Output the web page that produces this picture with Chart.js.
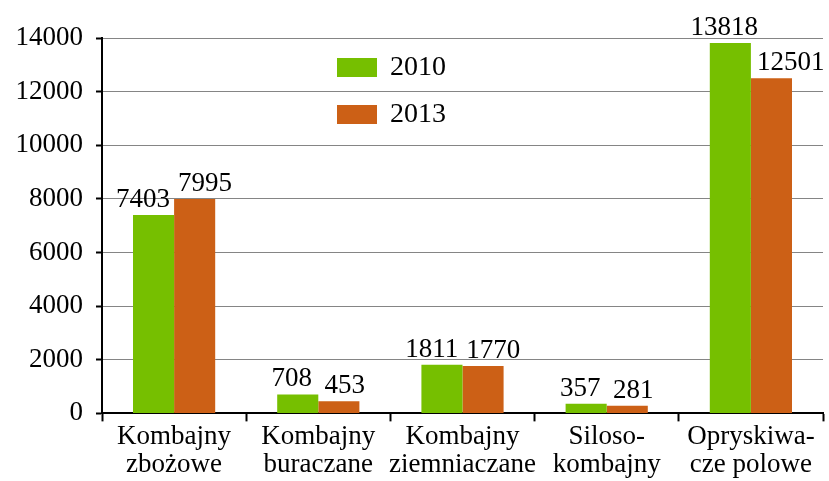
<!DOCTYPE html>
<html>
<head>
<meta charset="utf-8">
<script src="https://cdn.jsdelivr.net/npm/chart.js@4/dist/chart.umd.min.js"></script>
<style>
  html, body { margin: 0; padding: 0; background: #fff; }
  #wrap { width: 829px; height: 481px; position: relative; }
</style>
</head>
<body>
<div id="wrap"><canvas id="chart"></canvas></div>
<script>
const categories = [
    ['Kombajny', 'zbożowe'],
    ['Kombajny', 'buraczane'],
    ['Kombajny', 'ziemniaczane'],
    ['Siloso-', 'kombajny'],
    ['Opryskiwa-', 'cze polowe']
];
const values2010 = [7403, 708, 1811, 357, 13818];
const values2013 = [7995, 453, 1770, 281, 12501];
const seriesNames = ['2010', '2013'];

const GREEN = '#76bf00';
const ORANGE = '#cc6016';
const FONT = '"Liberation Serif", "Times New Roman", serif';

// --- value labels above bars + legend inside plot ---
const extras = {
    id: 'extras',
    afterDatasetsDraw(chart) {
        const ctx = chart.ctx;
        ctx.save();
        ctx.fillStyle = '#000';
        ctx.font = '27px ' + FONT;
        ctx.textAlign = 'center';
        ctx.textBaseline = 'alphabetic';
        const g = chart.getDatasetMeta(0).data;
        const o = chart.getDatasetMeta(1).data;
        g.forEach((gb, j) => {
            const ob = o[j];
            const t1 = String(values2010[j]), t2 = String(values2013[j]);
            const w1 = ctx.measureText(t1).width, w2 = ctx.measureText(t2).width;
            const b1 = gb.y - 8, b2 = ob.y - 8;
            let x1 = gb.x - 6, x2 = ob.x + 6;
            if (gb.y < b2 && x2 - w2 / 2 < gb.x + gb.width / 2 + 6) {
                // green bar would cover the orange label: move it right
                x2 = gb.x + gb.width / 2 + 6 + w2 / 2;
            } else if (Math.abs(b1 - b2) < 24) {
                // keep the two labels apart
                const gap = (x2 - w2 / 2) - (x1 + w1 / 2);
                if (gap < 8) { x1 -= (8 - gap) / 2; x2 += (8 - gap) / 2; }
            }
            ctx.fillText(t1, x1, b1);
            ctx.fillText(t2, x2, b2);
        });

        // legend
        ctx.textAlign = 'left';
        ctx.textBaseline = 'middle';
        ctx.font = '28px ' + FONT;
        chart.data.datasets.forEach((ds, i) => {
            const y = 67 + i * 47;
            ctx.fillStyle = ds.backgroundColor;
            ctx.fillRect(337, y - 9, 40, 19);
            ctx.fillStyle = '#000';
            ctx.fillText(ds.label, 390, y + 1);
        });
        ctx.restore();
    }
};

new Chart(document.getElementById('chart'), {
    type: 'bar',
    data: {
        labels: categories,
        datasets: [
            { label: seriesNames[0], data: values2010, backgroundColor: GREEN },
            { label: seriesNames[1], data: values2013, backgroundColor: ORANGE }
        ]
    },
    options: {
        responsive: true,
        maintainAspectRatio: false,
        animation: false,
        layout: { padding: { top: 38, right: 6, left: 0, bottom: 0 } },
        datasets: { bar: { categoryPercentage: 0.57, barPercentage: 1.0 } },
        plugins: {
            legend: { display: false },
            tooltip: { enabled: false }
        },
        scales: {
            x: {
                offset: true,
                border: { color: '#000', width: 2 },
                grid: { offset: true, drawOnChartArea: false, tickColor: '#000', tickLength: 8, tickWidth: 2 },
                ticks: { color: '#000', font: { family: FONT, size: 27, lineHeight: 1.03 }, padding: 2, maxRotation: 0, autoSkip: false }
            },
            y: {
                min: 0,
                max: 14000,
                border: { color: '#000', width: 2 },
                grid: { color: '#858585', lineWidth: 1, tickColor: '#000', tickLength: 6, tickWidth: 2 },
                ticks: {
                    stepSize: 2000, color: '#000', padding: 13,
                    font: { family: FONT, size: 27 },
                    callback: v => String(v)
                },
                afterFit(scale) { scale.width = 102; }
            }
        }
    },
    plugins: [extras]
});
</script>
</body>
</html>
